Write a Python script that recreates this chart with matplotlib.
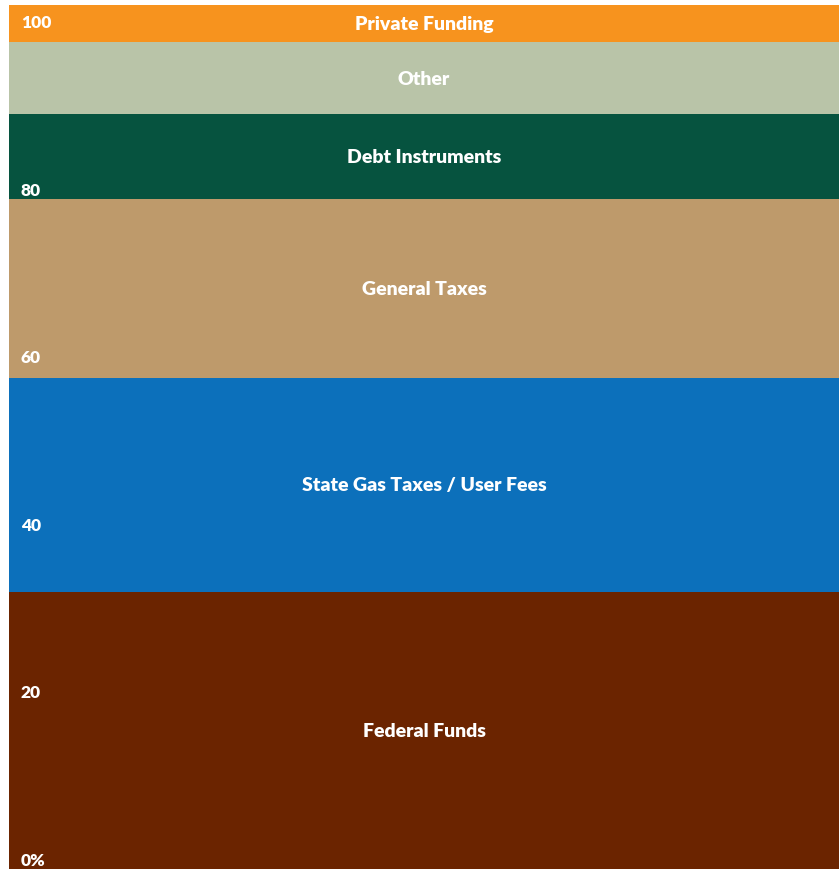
import matplotlib
matplotlib.use("Agg")
import matplotlib.pyplot as plt

# Share of funding by source (percent), bottom to top
sources = ['Federal Funds', 'State Gas Taxes / User Fees', 'General Taxes',
           'Debt Instruments', 'Other', 'Private Funding']
shares = [32.1, 24.7, 20.8, 9.8, 8.3, 4.3]
colors = ['#6B2400', '#0C70BB', '#BE9A6B', '#06533F', '#B9C4A8', '#F7931E']

tick_values = [0, 20, 40, 60, 80, 100]
tick_labels = ['0%', '20', '40', '60', '80', '100']

plt.rcParams['font.family'] = ['Lato', 'DejaVu Sans']

fig = plt.figure(figsize=(8.39, 8.70), dpi=100)
ax = fig.add_axes([9 / 839, 0, 830 / 839, 864 / 870])

# Stacked single bar filling the whole axes
bottom = 0
for name, val, col in zip(sources, shares, colors):
    ax.bar(0, val, width=1, bottom=bottom, color=col, edgecolor='none')
    ax.text(0, bottom + val / 2, name, ha='center', va='center',
            color='white', fontsize=14, fontweight='heavy')
    bottom += val

ax.set_xlim(-0.5, 0.5)
ax.set_ylim(0, 100)
ax.axis('off')

# Value scale drawn inside the bar on the left
ax2 = ax.twinx()
ax2.set_ylim(-1.25, 101.85)
ax2.yaxis.set_ticks_position('left')
ax2.set_yticks(tick_values)
ax2.set_yticklabels(tick_labels, fontsize=12.5, fontweight='heavy', color='white')
for lab in ax2.get_yticklabels():
    lab.set_horizontalalignment('left')
ax2.tick_params(axis='y', length=0, pad=-8.5)
ax2.set_xticks([])
for s in ax2.spines.values():
    s.set_visible(False)

fig.savefig('out.png', dpi=100, facecolor='white')
